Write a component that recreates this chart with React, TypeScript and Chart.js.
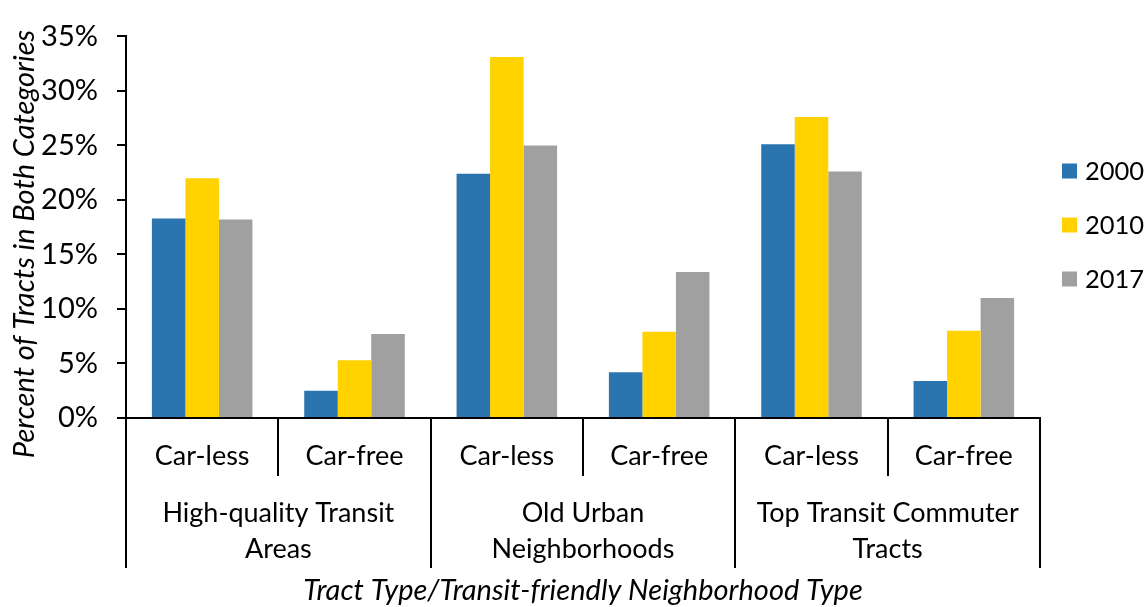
import React, { useEffect, useRef } from "react";
import { Chart, registerables } from "chart.js";

Chart.register(...registerables);

const subCategories = ["Car-less", "Car-free", "Car-less", "Car-free", "Car-less", "Car-free"];
const groupLabels = [
  ["High-quality Transit", "Areas"],
  ["Old Urban", "Neighborhoods"],
  ["Top Transit Commuter", "Tracts"],
];
const seriesNames = ["2000", "2010", "2017"];
const values2000 = [18.3, 2.5, 22.4, 4.2, 25.1, 3.4];
const values2010 = [22.0, 5.3, 33.1, 7.9, 27.6, 8.0];
const values2017 = [18.2, 7.7, 25.0, 13.4, 22.6, 11.0];
const seriesColors = ["#2A74B0", "#FFD200", "#A0A0A0"];
const yTicks = [0, 5, 10, 15, 20, 25, 30, 35];
const yTitle = "Percent of Tracts in Both Categories";
const xTitle = "Tract Type/Transit-friendly Neighborhood Type";

const FONT = "Lato";
const FS = 27;
const FS_TICK = 29;
const FS_LEGEND = 25.5;
const FS_TITLE = 29;

const decorPlugin = {
  id: "decor",
  afterDraw(chart: any) {
    const ctx = chart.ctx;
    const x = chart.scales.x;
    const area = chart.chartArea;
    const n = subCategories.length;
    const step = x.getPixelForValue(1) - x.getPixelForValue(0);
    const bottom = area.bottom;
    ctx.save();
    ctx.strokeStyle = "#000";
    ctx.lineWidth = 2;
    for (let j = 0; j <= n; j++) {
      const bx = Math.round(x.getPixelForValue(0) - step / 2 + j * step);
      const end = j % 2 === 0 ? bottom + 150 : bottom + 58;
      ctx.beginPath();
      ctx.moveTo(bx, bottom);
      ctx.lineTo(bx, end);
      ctx.stroke();
    }
    ctx.fillStyle = "#000";
    ctx.textAlign = "center";
    ctx.textBaseline = "middle";
    ctx.font = `${FS}px ${FONT}`;
    subCategories.forEach((lab, i) => {
      ctx.fillText(lab, x.getPixelForValue(i), bottom + 38);
    });
    groupLabels.forEach((lines, g) => {
      const cx = (x.getPixelForValue(2 * g) + x.getPixelForValue(2 * g + 1)) / 2;
      lines.forEach((line, k) => {
        ctx.fillText(line, cx, bottom + 95 + k * 36);
      });
    });
    ctx.font = `italic ${FS_TITLE}px ${FONT}`;
    ctx.fillText(xTitle, (area.left + area.right) / 2, bottom + 173);
    ctx.save();
    ctx.translate(25, 244);
    ctx.rotate(-Math.PI / 2);
    ctx.fillText(yTitle, 0, 0);
    ctx.restore();
    // legend
    ctx.font = `${FS_LEGEND}px ${FONT}`;
    ctx.textAlign = "left";
    chart.data.datasets.forEach((ds: any, i: number) => {
      const cy = 171 + i * 54;
      ctx.fillStyle = ds.backgroundColor;
      ctx.fillRect(1062, cy - 7.5, 15, 15);
      ctx.fillStyle = "#000";
      ctx.fillText(ds.label, 1085, cy + 1);
    });
    ctx.restore();
  },
};

export default function App() {
  const ref = useRef<HTMLCanvasElement | null>(null);
  useEffect(() => {
    if (!ref.current) return;
    const data = [values2000, values2010, values2017];
    const chart = new Chart(ref.current, {
      type: "bar",
      data: {
        labels: subCategories,
        datasets: seriesNames.map((name, i) => ({
          label: name,
          data: data[i],
          backgroundColor: seriesColors[i],
          borderWidth: 0,
          categoryPercentage: 0.66,
          barPercentage: 1.0,
        })),
      },
      options: {
        animation: false,
        responsive: true,
        maintainAspectRatio: false,
        layout: { padding: { left: 0, top: 24, right: 108, bottom: 0 } },
        plugins: { legend: { display: false }, tooltip: { enabled: false } },
        scales: {
          x: {
            grid: { display: false },
            border: { display: true, color: "#000", width: 2 },
            ticks: { display: false },
            afterFit: (s: any) => {
              s.height = 189;
            },
          },
          y: {
            min: 0,
            max: 35,
            afterBuildTicks: (s: any) => {
              s.ticks = yTicks.map((v) => ({ value: v }));
            },
            ticks: {
              callback: (v: any) => `${v}%`,
              color: "#000",
              font: { family: FONT, size: FS_TICK },
              padding: 19,
            },
            grid: {
              display: true,
              drawOnChartArea: false,
              drawTicks: true,
              tickLength: 9,
              color: "#000",
              lineWidth: 2,
            },
            border: { display: true, color: "#000", width: 2 },
            afterFit: (s: any) => {
              s.width = 126;
            },
          },
        },
      },
      plugins: [decorPlugin],
    });
    return () => chart.destroy();
  }, []);
  return (
    <div style={{ position: "fixed", left: 0, top: 0, width: 1148, height: 607, background: "#fff" }}>
      <canvas ref={ref} />
    </div>
  );
}
